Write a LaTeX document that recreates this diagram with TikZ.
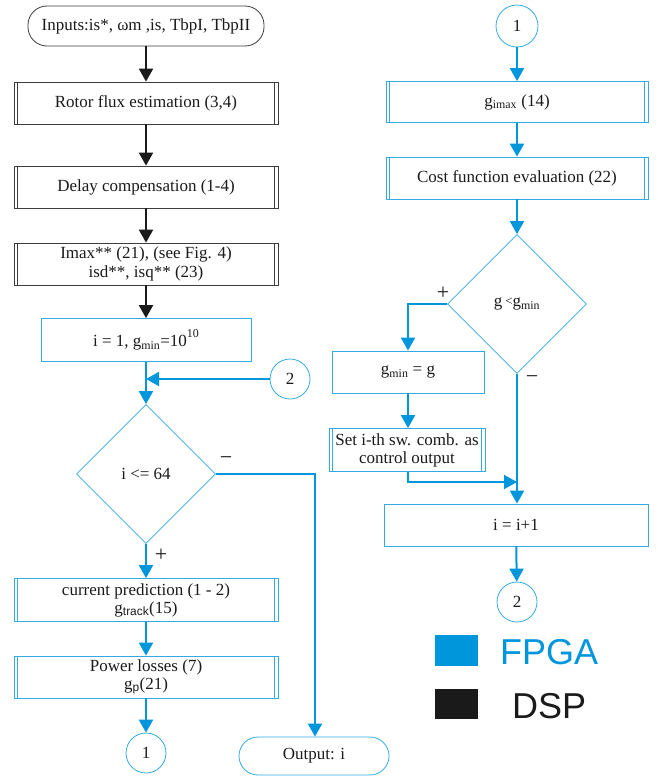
\documentclass[tikz,border=0pt]{standalone}
\usepackage{fontspec}
\setmainfont{Liberation Serif}
\setsansfont{Liberation Sans}
\usetikzlibrary{shapes.geometric,arrows.meta}
\definecolor{fpga}{RGB}{0,150,219}
\definecolor{dsp}{RGB}{26,26,26}

\begin{document}
\begin{tikzpicture}[x=1pt,y=-1pt,
	every node/.style={font=\fontsize{17}{19}\selectfont, text=dsp, inner sep=0pt, align=center},
	subproc/.style={path picture={\draw[#1, line width=0.8pt]
		([xshift=3.5pt]path picture bounding box.north west) -- ([xshift=3.5pt]path picture bounding box.south west)
		([xshift=-3.5pt]path picture bounding box.north east) -- ([xshift=-3.5pt]path picture bounding box.south east);}},
	dspbox/.style={draw=dsp!85, line width=0.8pt, minimum width=264, minimum height=42, subproc=dsp!85},
	fpgabox/.style={draw=fpga!80, line width=0.8pt, minimum width=#1, minimum height=42},
	fpgasub/.style={fpgabox=#1, subproc=fpga!80},
	term/.style={draw=#1, line width=0.8pt, rounded corners=19, minimum height=40},
	conn/.style={circle, draw=fpga!80, line width=0.8pt, minimum size=40},
	dec/.style={diamond, draw=fpga!80, line width=0.8pt, minimum width=139, minimum height=139},
	sign/.style={font=\fontsize{22}{22}\selectfont},
	dsparrow/.style={line width=2pt, dsp, -{Triangle[length=13pt,width=14pt]}},
	fpgaarrow/.style={line width=2pt, fpga, -{Triangle[length=13pt,width=14pt]}}
]

	%\draw[help lines] (0,0) grid[step=50] (657,779);
	\useasboundingbox (0,0) rectangle (657,779);

	% left column
	\node[term=dsp!85, minimum width=236] (inputs) at (146,26) {Inputs:is*, ωm ,is, TbpI, TbpII};
	\node[dspbox] (rotor) at (146,103) {Rotor flux estimation (3,4)};
	\node[dspbox] (delay) at (146,187) {Delay compensation (1-4)};
	\node[dspbox] (imax) at (146,264) {Imax** (21), (see Fig. 4)\\ isd**, isq** (23)};
	\node[fpgabox=210, minimum height=43] (init) at (146,340) {i = 1, g\textsubscript{min}=10\raisebox{9pt}{\fontsize{12}{12}\selectfont 10}};
	\node[conn] (two) at (290,379) {2};
	\node[dec] (loop) at (146,474) {i <= 64};
	\node[fpgasub=264, minimum height=43] (pred) at (146,600) {current prediction (1 - 2)\\[-1pt] g\textsubscript{\sffamily track}(15)};
	\node[fpgasub=264] (loss) at (146,677) {Power losses (7)\\[-1pt] g\textsubscript{\sffamily p}(21)};
	\node[conn] (one) at (146,753) {1};
	\node[term=fpga!80, minimum width=150, minimum height=38] (out) at (314,756) {Output: i};
	\coordinate (bend) at (315,474);

	\node[sign] at (161,555) {+};
	\node[sign] at (226,461) {\textminus};

	\draw[dsparrow] (inputs) -- (rotor);
	\draw[dsparrow] (rotor) -- (delay);
	\draw[dsparrow] (delay) -- (imax);
	\draw[dsparrow] (imax) -- (init);
	\draw[fpgaarrow] (init) -- (loop);
	\draw[fpgaarrow] (two) -- (two -| init.south);
	\draw[fpgaarrow] (loop.east) -- (bend) -- (out.north -| bend);
	\draw[fpgaarrow] (loop) -- (pred);
	\draw[fpgaarrow] (pred) -- (loss);
	\draw[fpgaarrow] (loss) -- (one);

	% right column
	\node[conn, minimum size=42] (oneb) at (517,26) {1};
	\node[fpgasub=262, minimum height=41] (gimax) at (517,102) {g\textsubscript{imax} (14)};
	\node[fpgasub=262] (cost) at (517,178) {Cost function evaluation (22)};
	\node[dec] (cmp) at (517,304) {g\,\raisebox{1.5pt}{\fontsize{13}{13}\selectfont<}g\textsubscript{min}};
	\node[fpgabox=152] (upd) at (408,372) {g\textsubscript{min} = g};
	\node[fpgasub=156, minimum height=43] (set) at (407,450) {Set i-th sw. comb. as\\[-1pt] control output};
	\node[fpgabox=264] (inc) at (516,525) {i = i+1};
	\node[conn] (twob) at (517,602) {2};
	\coordinate (join) at (517,482);

	\node[sign] at (443,293) {+};
	\node[sign] at (532,380) {\textminus};

	\draw[fpgaarrow] (oneb) -- (gimax);
	\draw[fpgaarrow] (gimax) -- (cost);
	\draw[fpgaarrow] (cost) -- (cmp);
	\draw[fpgaarrow] (cmp.west) -| (upd.north);
	\draw[fpgaarrow] (upd) -- (upd |- set.north);
	\draw[fpgaarrow] (upd |- set.south) |- (join);
	\draw[fpgaarrow] (cmp.south) -- (cmp.south |- inc.north);
	\draw[fpgaarrow] (inc) -- (twob);

	% legend
	\node[fill=fpga, minimum width=43, minimum height=31] (lgfpga) at (456,650) {};
	\node[fill=dsp, minimum width=43, minimum height=30] (lgdsp) at (456,704) {};
	\node[anchor=west, text=fpga, font=\sffamily\fontsize{36}{40}\selectfont] at (500,652) {FPGA};
	\node[anchor=west, font=\sffamily\fontsize{36}{40}\selectfont] at (512,706) {DSP};

\end{tikzpicture}
\end{document}
